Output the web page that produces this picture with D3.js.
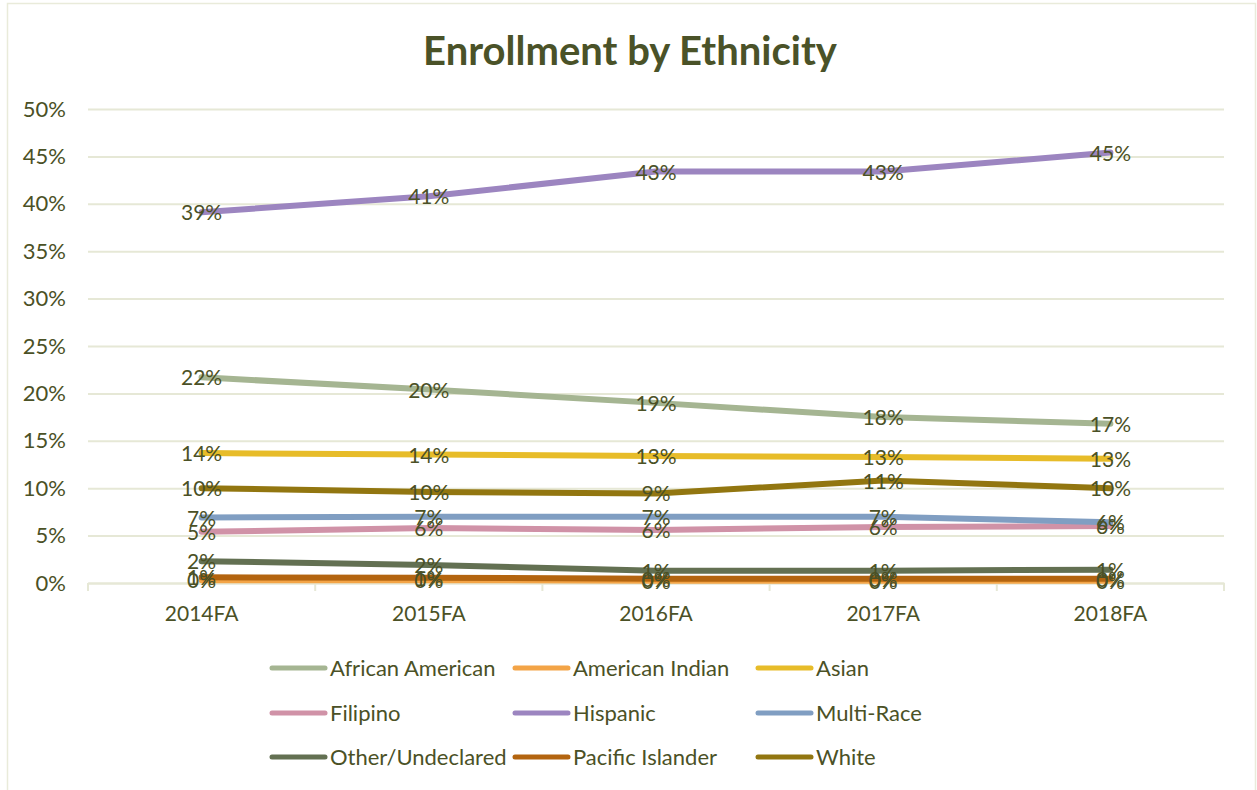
<!DOCTYPE html>
<html>
<head>
<meta charset="utf-8">
<script src="https://cdn.jsdelivr.net/npm/d3@7"></script>
<style>
  html, body { margin: 0; padding: 0; background: #ffffff; }
  svg { display: block; }
</style>
</head>
<body>
<svg id="chart" width="1257" height="790"></svg>
<script>
const categories = ["2014FA", "2015FA", "2016FA", "2017FA", "2018FA"];
const seriesNames = ["African American", "American Indian", "Asian", "Filipino", "Hispanic", "Multi-Race", "Other/Undeclared", "Pacific Islander", "White"];
const africanAmerican = [0.217, 0.204, 0.190, 0.175, 0.168];
const americanIndian  = [0.003, 0.003, 0.0025, 0.0025, 0.0025];
const asian           = [0.137, 0.1355, 0.134, 0.133, 0.131];
const filipino        = [0.054, 0.058, 0.056, 0.059, 0.060];
const hispanic        = [0.391, 0.408, 0.434, 0.434, 0.454];
const multiRace       = [0.069, 0.070, 0.070, 0.070, 0.064];
const otherUndeclared = [0.023, 0.019, 0.013, 0.013, 0.014];
const pacificIslander = [0.006, 0.0055, 0.0045, 0.0045, 0.0045];
const white           = [0.100, 0.096, 0.0945, 0.108, 0.100];
const yTicks = [0, 0.05, 0.10, 0.15, 0.20, 0.25, 0.30, 0.35, 0.40, 0.45, 0.50];
const seriesColors = ["#a5b592", "#f3a447", "#e7bc29", "#d092a7", "#9c85c0", "#809ec2", "#637052", "#b3640f", "#927610"];

const seriesValues = [africanAmerican, americanIndian, asian, filipino, hispanic, multiRace, otherUndeclared, pacificIslander, white];
const series = seriesNames.map((name, i) => ({
  name, color: seriesColors[i],
  values: categories.map((c, j) => ({ cat: c, v: seriesValues[i][j] }))
}));

const textColor = "#4b5126";
const gridColor = "#e6e8d6";
const font = "Lato, 'Open Sans', sans-serif";

const svg = d3.select("#chart");

// outer border
svg.append("rect").attr("x", 7.5).attr("y", 3.5).attr("width", 1248).attr("height", 800)
  .attr("fill", "#fff").attr("stroke", "#e9ebda").attr("stroke-width", 1.5);

const pLeft = 88, pRight = 1224, pTop = 109, pBottom = 583;
const x = d3.scaleBand().domain(categories).range([pLeft, pRight]);
const y = d3.scaleLinear().domain([0, 0.5]).range([pBottom, pTop]);

// title
svg.append("text").attr("x", 630).attr("y", 65).attr("text-anchor", "middle")
  .attr("font-family", font).attr("font-weight", "bold").attr("font-size", 40)
  .attr("fill", "#4a5228").text("Enrollment by Ethnicity");

// gridlines
const yAxis = d3.axisLeft(y).tickValues(yTicks).tickSize(-(pRight - pLeft)).tickFormat(d3.format(".0%")).tickPadding(22);
const gy = svg.append("g").attr("transform", `translate(${pLeft},0)`).call(yAxis);
gy.select(".domain").remove();
gy.selectAll(".tick line").attr("stroke", gridColor).attr("stroke-width", 2);
gy.selectAll(".tick text").attr("font-family", font).attr("font-size", 22).attr("fill", textColor);

// x axis
const xAxis = d3.axisBottom(x).tickSize(0).tickPadding(23);
const gx = svg.append("g").attr("transform", `translate(0,${pBottom})`).call(xAxis);
gx.select(".domain").attr("stroke", gridColor).attr("stroke-width", 2);
gx.selectAll(".tick text").attr("font-family", font).attr("font-size", 21).attr("fill", textColor);
const boundaries = categories.map(c => x(c)).concat([pRight]);
gx.selectAll("line.sep").data(boundaries).enter().append("line").attr("class", "sep")
  .attr("x1", d => d).attr("x2", d => d).attr("y1", 0).attr("y2", 8)
  .attr("stroke", gridColor).attr("stroke-width", 2);

const cx = c => x(c) + x.bandwidth() / 2;
const line = d3.line().x(d => cx(d.cat)).y(d => y(d.v));

// lines
svg.append("g").selectAll("path").data(series).enter().append("path")
  .attr("d", d => line(d.values)).attr("fill", "none")
  .attr("stroke", d => d.color).attr("stroke-width", 6)
  .attr("stroke-linejoin", "round").attr("stroke-linecap", "round");

// labels
const lab = svg.append("g");
series.forEach(s => {
  lab.selectAll(null).data(s.values).enter().append("text")
    .attr("x", d => cx(d.cat)).attr("y", d => y(d.v)).attr("dy", "0.38em")
    .attr("text-anchor", "middle").attr("font-family", font).attr("font-size", 21)
    .attr("fill", textColor).text(d => d3.format(".0%")(d.v));
});

// legend
const legCols = [272, 515, 758];
const legRows = [668, 713, 757];
const leg = svg.append("g");
series.forEach((s, i) => {
  const lx = legCols[i % 3], ly = legRows[Math.floor(i / 3)];
  leg.append("line").attr("x1", lx).attr("x2", lx + 53).attr("y1", ly).attr("y2", ly)
    .attr("stroke", s.color).attr("stroke-width", 5).attr("stroke-linecap", "round");
  leg.append("text").attr("x", lx + 58).attr("y", ly).attr("dy", "0.36em")
    .attr("font-family", font).attr("font-size", 22).attr("fill", textColor).text(s.name);
});
</script>
</body>
</html>
